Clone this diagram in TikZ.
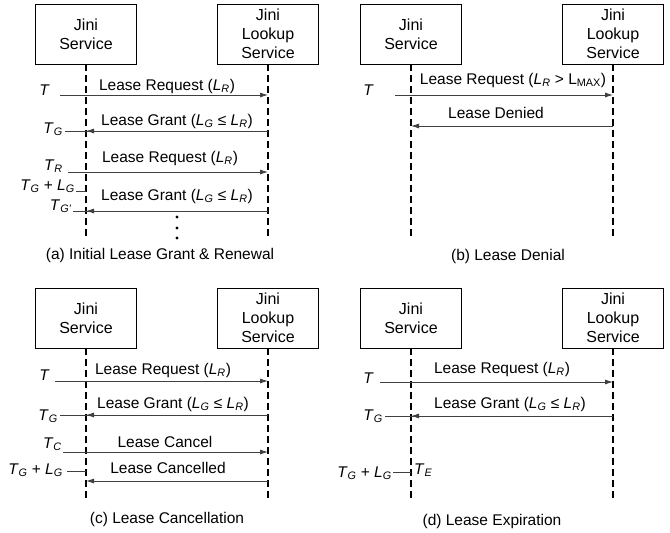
\documentclass[tikz,border=0pt]{standalone}
\usepackage{fontspec}
\setmainfont{Liberation Sans}
\usetikzlibrary{arrows.meta, positioning}
\newcommand{\iv}[2]{\textit{#1}\textsubscript{\textit{#2}}}

\begin{document}
\begin{tikzpicture}[x=1pt, y=-1pt,
        actor/.style={rectangle, draw=black, line width=0.8pt, minimum width=101pt, minimum height=60pt, align=center, inner sep=0pt, font=\fontsize{16}{19}\selectfont},
        life/.style={black, line width=1.4pt, dash pattern=on 7pt off 4pt},
        msg/.style={draw=black!75, line width=0.8pt, -{Latex[length=8pt,width=5pt]}},
        tick/.style={draw=black!75, line width=0.8pt},
        mlabel/.style={anchor=base, inner sep=0pt, font=\fontsize{15.5}{18}\selectfont},
        tlabel/.style={anchor=base east, inner sep=0pt, font=\fontsize{15.5}{18}\selectfont},
        caption/.style={anchor=base, inner sep=0pt, font=\fontsize{15.5}{18}\selectfont}
    ]
    \useasboundingbox (0,0) rectangle (670,533);

    % (a) initial lease grant and renewal
    \node[actor] (aS) at (86,34) {Jini\\Service};
    \node[actor] (aL) at (268,34) {Jini\\Lookup\\Service};
    \coordinate (aSe) at (86,238);
    \coordinate (aLe) at (268,238);
    \draw[life] (aS) -- (aSe);
    \draw[life] (aL) -- (aLe);

    \coordinate (aT) at (60,95);
    \coordinate (aTG) at (65,131);
    \coordinate (aTR) at (68,172);
    \coordinate (aTL) at (76,191);
    \coordinate (aTG2) at (73,211);
    \draw[msg] (aT) -- (aT -| aL);
    \draw[tick] (aTG) -- (aTG -| aL);
    \draw[msg] (aTG -| aL) -- (aTG -| aS);
    \draw[msg] (aTR) -- (aTR -| aL);
    \draw[tick] (aTL) -- (aTL -| aS);
    \draw[tick] (aTG2) -- (aTG2 -| aL);
    \draw[msg] (aTG2 -| aL) -- (aTG2 -| aS);

    \node[mlabel] (aM1) at (167,90) {Lease Request (\iv{L}{R})};
    \node[mlabel] (aM2) at (177,125) {Lease Grant (\iv{L}{G} ≤ \iv{L}{R})};
    \node[mlabel] (aM3) at (170,162) {Lease Request (\iv{L}{R})};
    \node[mlabel] (aM4) at (177,200) {Lease Grant (\iv{L}{G} ≤ \iv{L}{R})};
    \node[tlabel] (aL1) at (50,95) {\textit{T}};
    \node[tlabel] (aL2) at (63,133) {\iv{T}{G}};
    \node[tlabel] (aL3) at (63,170) {\iv{T}{R}};
    \node[tlabel] (aL4) at (75,190) {\iv{T}{G} + \iv{L}{G}};
    \node[tlabel] (aL5) at (72,210) {\iv{T}{G'}};
    \foreach \y in {217,228,238}
        \fill (177,\y) circle (1.6);
    \node[caption] (aCap) at (160,259) {(a) Initial Lease Grant \& Renewal};

    % (b) lease denial
    \node[actor] (bS) at (411,34) {Jini\\Service};
    \node[actor] (bL) at (613,34) {Jini\\Lookup\\Service};
    \coordinate (bSe) at (411,237);
    \coordinate (bLe) at (613,237);
    \draw[life] (bS) -- (bSe);
    \draw[life] (bL) -- (bLe);

    \coordinate (bT) at (395,95);
    \coordinate (bD) at (613,126);
    \draw[msg] (bT) -- (bT -| bL);
    \draw[msg] (bD) -- (bD -| bS);
    \node[mlabel] (bM1) at (513,84) {Lease Request (\iv{L}{R} > L\textsubscript{MAX})};
    \node[mlabel] (bM2) at (496,118) {Lease Denied};
    \node[tlabel] (bL1) at (374,95) {\textit{T}};
    \node[caption] (bCap) at (508,260) {(b) Lease Denial};

    % (c) lease cancellation
    \node[actor] (cS) at (86,318) {Jini\\Service};
    \node[actor] (cL) at (268,318) {Jini\\Lookup\\Service};
    \coordinate (cSe) at (86,500);
    \coordinate (cLe) at (268,500);
    \draw[life] (cS) -- (cSe);
    \draw[life] (cL) -- (cLe);

    \coordinate (cT) at (55,381);
    \coordinate (cTG) at (60,415);
    \coordinate (cTC) at (63,452);
    \coordinate (cTL) at (67,471);
    \coordinate (cX) at (268,481);
    \draw[msg] (cT) -- (cT -| cL);
    \draw[tick] (cTG) -- (cTG -| cL);
    \draw[msg] (cTG -| cL) -- (cTG -| cS);
    \draw[msg] (cTC) -- (cTC -| cL);
    \draw[tick] (cTL) -- (cTL -| cS);
    \draw[msg] (cX) -- (cX -| cS);
    \node[mlabel] (cM1) at (163,374) {Lease Request (\iv{L}{R})};
    \node[mlabel] (cM2) at (173,408) {Lease Grant (\iv{L}{G} ≤ \iv{L}{R})};
    \node[mlabel] (cM3) at (165,447) {Lease Cancel};
    \node[mlabel] (cM4) at (168,473) {Lease Cancelled};
    \node[tlabel] (cL1) at (50,380) {\textit{T}};
    \node[tlabel] (cL2) at (58,420) {\iv{T}{G}};
    \node[tlabel] (cL3) at (62,448) {\iv{T}{C}};
    \node[tlabel] (cL4) at (63,474) {\iv{T}{G} + \iv{L}{G}};
    \node[caption] (cCap) at (167,523) {(c) Lease Cancellation};

    % (d) lease expiration
    \node[actor] (dS) at (411,318) {Jini\\Service};
    \node[actor] (dL) at (613,318) {Jini\\Lookup\\Service};
    \coordinate (dSe) at (411,500);
    \coordinate (dLe) at (613,500);
    \draw[life] (dS) -- (dSe);
    \draw[life] (dL) -- (dLe);

    \coordinate (dT) at (380,382);
    \coordinate (dTG) at (385,416);
    \coordinate (dTL) at (393,472);
    \draw[msg] (dT) -- (dT -| dL);
    \draw[tick] (dTG) -- (dTG -| dL);
    \draw[msg] (dTG -| dL) -- (dTG -| dS);
    \draw[tick] (dTL) -- (dTL -| dS);
    \node[mlabel] (dM1) at (502,373) {Lease Request (\iv{L}{R})};
    \node[mlabel] (dM2) at (510,408) {Lease Grant (\iv{L}{G} ≤ \iv{L}{R})};
    \node[tlabel] (dL1) at (374,383) {\textit{T}};
    \node[tlabel] (dL2) at (383,420) {\iv{T}{G}};
    \node[tlabel] (dL3) at (392,477) {\iv{T}{G} + \iv{L}{G}};
    \node[anchor=base west, inner sep=0pt, font=\fontsize{15.5}{18}\selectfont] (dL4) at (414,474) {\iv{T}{E}};
    \node[caption] (dCap) at (492,525) {(d) Lease Expiration};
\end{tikzpicture}
\end{document}
